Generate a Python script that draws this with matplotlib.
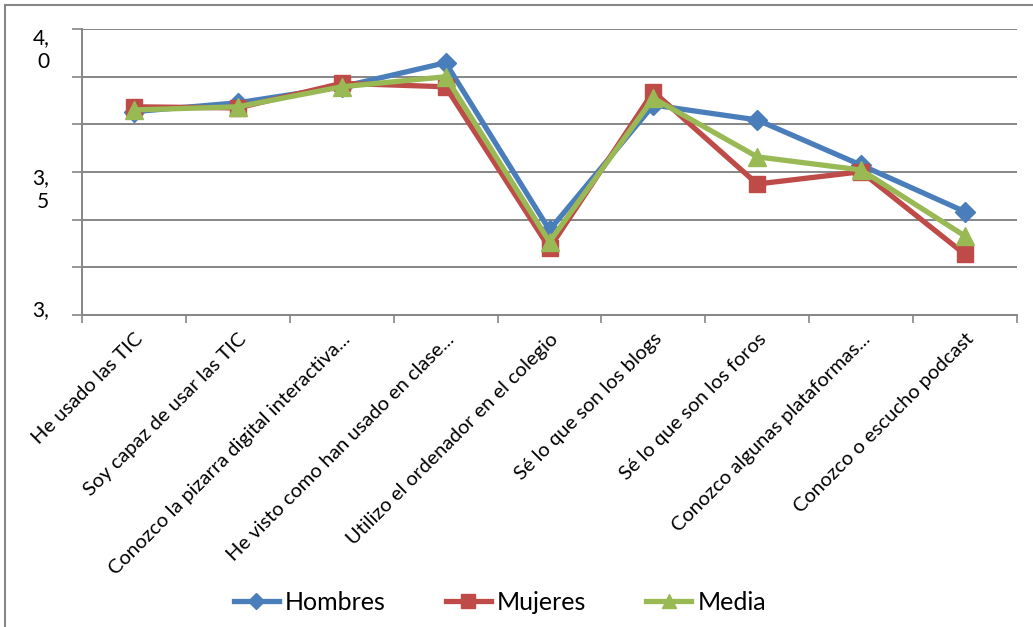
import numpy as np
import matplotlib
matplotlib.use("Agg")
import matplotlib.pyplot as plt
from matplotlib.patches import Rectangle
from matplotlib.transforms import blended_transform_factory

# ── Data ──────────────────────────────────────────────────────────────────────
categories = [
    "He usado las TIC",
    "Soy capaz de usar las TIC",
    "Conozco la pizarra digital interactiva...",
    "He visto como han usado en clase...",
    "Utilizo el ordenador en el colegio",
    "Sé lo que son los blogs",
    "Sé lo que son los foros",
    "Conozco algunas plataformas...",
    "Conozco o escucho podcast",
]
hombres = [3.711, 3.742, 3.798, 3.882, 3.297, 3.734, 3.682, 3.524, 3.361]
mujeres = [3.728, 3.724, 3.810, 3.798, 3.234, 3.781, 3.458, 3.501, 3.212]
media   = [3.717, 3.728, 3.798, 3.833, 3.256, 3.758, 3.553, 3.507, 3.276]

ytick_labels = {4.0: "4,\n0", 3.5: "3,\n5", 3.0: "3,"}

# ── Style ─────────────────────────────────────────────────────────────────────
plt.rcParams["font.family"] = ["Lato", "DejaVu Sans"]
GRID = "#868686"
BLUE, RED, GREEN = "#4A7EBB", "#BE4B48", "#98B954"

fig = plt.figure(figsize=(10.33, 6.27), dpi=100)
ax = fig.add_axes([82 / 1033, 1 - 315 / 627, (1017 - 82) / 1033, (315 - 29) / 627])

x = np.arange(len(categories))
ax.plot(x, hombres, color=BLUE, lw=3.8, marker="D", ms=10, label="Hombres", zorder=3)
ax.plot(x, mujeres, color=RED, lw=3.8, marker="s", ms=12, label="Mujeres", zorder=4)
ax.plot(x, media, color=GREEN, lw=3.8, marker="^", ms=13, label="Media", zorder=5)

# ── Axes ──────────────────────────────────────────────────────────────────────
ax.set_xlim(-0.5, len(categories) - 0.5)
ax.set_ylim(3.0, 4.0)
yt = np.linspace(3.0, 4.0, 7)
ax.set_yticks(yt)
ax.set_yticklabels([""] * len(yt))
ax.grid(axis="y", color=GRID, lw=1.4)
ax.set_axisbelow(True)
ax.tick_params(axis="y", length=7.5, width=1.2, color=GRID)

ax.set_xticks(x)
ax.set_xticklabels(categories, rotation=45, ha="right", rotation_mode="anchor",
                   fontsize=14.5)
ax.set_xticks(np.arange(-0.5, len(categories)), minor=True)
ax.tick_params(axis="x", which="major", length=0, pad=11)
ax.tick_params(axis="x", which="minor", length=6, width=1.2, color=GRID)

for s in ["top", "right"]:
    ax.spines[s].set_visible(False)
for s in ["left", "bottom"]:
    ax.spines[s].set_color(GRID)
    ax.spines[s].set_linewidth(1.4)

# y labels drawn as text (Excel-style wrapped labels)
tr = blended_transform_factory(ax.transAxes, ax.transData)
label_pos = {4.0: 3.927, 3.5: 3.437, 3.0: 3.017}
for v, txt in ytick_labels.items():
    ax.text(-0.035, label_pos[v], txt, transform=tr, ha="right", va="center",
            fontsize=15, linespacing=1.25)

# ── Legend ────────────────────────────────────────────────────────────────────
ax.legend(loc="center", bbox_to_anchor=(500 / 1033, 1 - 602 / 627),
          bbox_transform=fig.transFigure, ncol=3, frameon=False, fontsize=18,
          handlelength=1.8, handletextpad=0.25, columnspacing=2.4, markerscale=0.8)

# chart border (open on the right, cut at the bottom)
fig.patches.append(Rectangle((5 / 1033, -0.05), 1.1, 1 - 5 / 627 + 0.05,
                             transform=fig.transFigure, fill=False, ec=GRID, lw=1.5))

fig.savefig("out.png", dpi=100)
